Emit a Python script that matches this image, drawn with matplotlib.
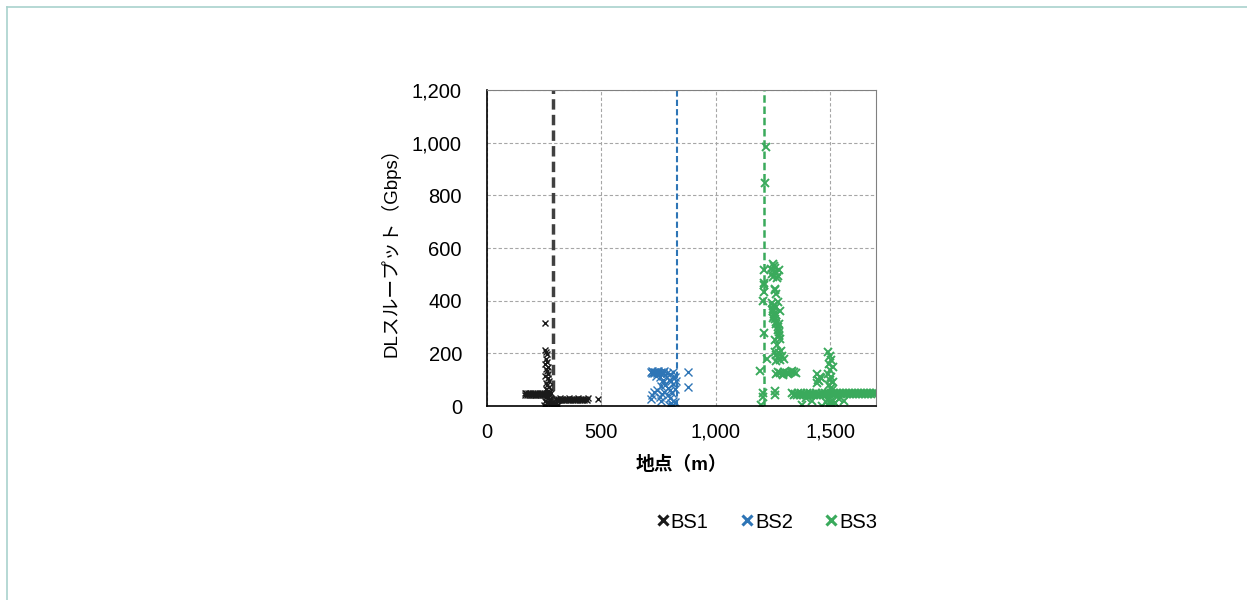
import matplotlib
matplotlib.use("Agg")
import matplotlib.pyplot as plt
from matplotlib.lines import Line2D
from matplotlib.ticker import FuncFormatter

plt.rcParams['font.family'] = ['Liberation Sans', 'Noto Sans CJK JP', 'DejaVu Sans']

# BS1 (black)
bs1_x = [165, 172, 180, 188, 195, 203, 210, 218, 225, 233, 240, 248, 255, 263, 270, 278,
         168, 176, 184, 192, 200, 208, 216, 224, 232, 240, 250, 260, 270,
         253, 255, 258, 262, 256, 262, 255, 265, 258, 262, 268, 255, 265, 270, 258, 263,
         270, 258, 265, 272, 260, 268, 275, 255, 265, 272, 280, 285, 290, 295, 300, 305,
         310, 248, 258, 275, 282, 288, 296,
         300, 310, 320, 330, 340, 350, 360, 370, 380, 390, 400, 410, 420, 430, 440,
         305, 315, 325, 335, 345, 355, 365, 375, 385, 395, 405, 415, 425, 435,
         485]
bs1_y = [48, 48, 49, 48, 47, 48, 49, 48, 47, 48, 49, 48, 47, 48, 49, 48,
         42, 42, 43, 42, 41, 42, 43, 42, 41, 42, 43, 42, 41,
         315, 212, 205, 198, 180, 168, 158, 150, 140, 132, 122, 115, 106, 95, 88, 80,
         72, 65, 58, 52, 36, 30, 25, 20, 15, 10, 6, 3, 8, 3, 12, 5,
         2, 5, 0, 18, 10, 2, 6,
         28, 28, 29, 28, 27, 28, 29, 28, 27, 28, 29, 28, 27, 28, 29,
         22, 22, 23, 22, 21, 22, 23, 22, 21, 22, 23, 22, 21, 22,
         27]

# BS2 (blue)
bs2_x = [715, 722, 728, 735, 742, 748, 755, 762, 768, 775, 720, 732, 745, 758, 770,
         785, 800, 812, 795, 805, 770, 780, 815, 760, 790, 800, 820, 775, 765, 810,
         790, 722, 718, 730, 745, 755, 800, 812, 805, 795, 815, 808, 820, 770, 755,
         740, 812, 820, 825, 760, 878, 878]
bs2_y = [130, 132, 128, 131, 129, 133, 127, 130, 128, 132, 125, 126, 124, 127, 125,
         125, 120, 110, 100, 95, 90, 80, 85, 75, 70, 60, 65, 55, 45, 50,
         40, 40, 25, 55, 60, 35, 30, 20, 10, 5, 3, 0, 15, 100, 110,
         115, 130, 110, 95, 20, 129, 72]

# BS3 (green)
bs3_x = [1218, 1214, 1210, 1212, 1210, 1212, 1208, 1210, 1192, 1205, 1208, 1197, 1223,
         1240, 1248, 1255, 1262, 1270, 1245, 1258, 1266, 1250, 1275,
         1258, 1262, 1260,
         1245, 1250, 1255, 1260, 1265, 1270, 1275, 1280, 1248, 1256, 1264, 1272, 1278,
         1252, 1262, 1270, 1276, 1258, 1268, 1275, 1250, 1265, 1280,
         1258, 1265, 1272, 1280, 1290, 1298, 1262, 1275, 1285,
         1262, 1272, 1282, 1292, 1300, 1310, 1320, 1330, 1340, 1350, 1295, 1315, 1335,
         1258, 1258,
         1335, 1348, 1361, 1374, 1387, 1400, 1413, 1426, 1439, 1452, 1465, 1478, 1491,
         1504, 1517, 1530, 1543, 1556, 1569, 1582, 1595, 1608, 1621, 1634, 1647, 1660,
         1673, 1686, 1698,
         1340, 1353, 1366, 1379, 1392, 1405, 1418, 1431, 1444, 1457, 1470, 1483, 1496,
         1509, 1522, 1535, 1548, 1561, 1574, 1587, 1600, 1613, 1626, 1639, 1652, 1665,
         1678, 1691,
         1490, 1500, 1505, 1495, 1510, 1500, 1492, 1505, 1498, 1510, 1495, 1502, 1508,
         1490, 1500, 1512, 1496,
         1440, 1448, 1456, 1444, 1452, 1460,
         1375, 1463, 1500, 1510, 1520, 1395, 1420, 1480, 1540, 1560]
bs3_y = [983, 847, 516, 460, 467, 433, 400, 277, 133, 49, 34, 4, 178,
         520, 540, 530, 510, 495, 500, 525, 485, 490, 515,
         440, 425, 445,
         390, 370, 350, 330, 310, 290, 270, 255, 380, 340, 320, 300, 280,
         360, 345, 395, 265, 250, 230, 310, 335, 375, 360,
         205, 195, 185, 175, 190, 180, 170, 200, 210,
         122, 128, 125, 120, 130, 127, 124, 128, 131, 126, 118, 121, 133,
         42, 58,
         48, 47, 49, 48, 46, 48, 49, 47, 48, 46, 49, 48, 50,
         49, 51, 50, 49, 51, 50, 48, 50, 51, 49, 50, 51, 49,
         50, 48, 50,
         40, 42, 41, 40, 43, 41, 40, 42, 41, 40, 43, 42, 44,
         44, 45, 44, 46, 45, 44, 46, 45, 44, 46, 45, 44, 45,
         46, 45,
         205, 190, 175, 160, 150, 135, 120, 110, 100, 90, 80, 70, 60,
         25, 15, 5, 0,
         87, 100, 110, 120, 95, 105,
         4, 0, 10, 20, 10, 30, 20, 15, 25, 20]

bs_lines = [290, 830, 1210]

fig = plt.figure(figsize=(12.47, 6.0), dpi=100)
ax = fig.add_axes([0.3905, 0.3233, 0.312, 0.5267])

c1, c2, c3 = '#1a1a1a', '#2e75b6', '#3aaa5c'
ax.plot(bs1_x, bs1_y, 'x', color=c1, ms=5, mew=1.0, label='BS1')
ax.plot(bs2_x, bs2_y, 'x', color=c2, ms=6, mew=1.0, label='BS2')
ax.plot(bs3_x, bs3_y, 'x', color=c3, ms=6, mew=1.4, label='BS3')

ax.axvline(bs_lines[0], color='#404040', lw=2.5, dashes=(3, 1.5), zorder=1)
ax.axvline(bs_lines[1], color=c2, lw=1.5, dashes=(3, 1.5), zorder=1)
ax.axvline(bs_lines[2], color=c3, lw=1.8, dashes=(3, 1.5), zorder=1)

ax.set_xlim(0, 1700)
ax.set_ylim(0, 1200)
ax.set_xticks([0, 500, 1000, 1500])
ax.set_yticks([0, 200, 400, 600, 800, 1000, 1200])
fmt = FuncFormatter(lambda v, p: f'{int(v):,}')
ax.xaxis.set_major_formatter(fmt)
ax.yaxis.set_major_formatter(fmt)
ax.tick_params(axis='both', length=0, labelsize=14.5)
ax.tick_params(axis='y', pad=18)
ax.tick_params(axis='x', pad=12)
ax.grid(True, color='#a6a6a6', lw=0.8, dashes=(3, 2))
ax.set_axisbelow(True)
for s in ['top', 'right']:
    ax.spines[s].set_color('#808080')
    ax.spines[s].set_linewidth(0.8)
for s in ['left', 'bottom']:
    ax.spines[s].set_color('black')
    ax.spines[s].set_linewidth(1.2)

ax.set_xlabel('地点（m）', fontsize=13.5, fontweight='bold', labelpad=10)
ax.set_ylabel('DLスループット（Gbps）', fontsize=13.5, labelpad=8)

handles = [Line2D([], [], ls='', marker='x', color=c1, ms=7, mew=2.2),
           Line2D([], [], ls='', marker='x', color=c2, ms=7, mew=2.2),
           Line2D([], [], ls='', marker='x', color=c3, ms=7, mew=2.2)]
fig.legend(handles, ['BS1', 'BS2', 'BS3'], loc='center', bbox_to_anchor=(0.615, 0.13),
           ncol=3, frameon=False, fontsize=14.5, handlelength=0.6,
           handletextpad=0.1, columnspacing=1.6)

# light frame at top and left
fig.add_artist(Line2D([7 / 1247, 1], [1 - 7 / 600, 1 - 7 / 600], color='#a9d2cd', lw=1.2))
fig.add_artist(Line2D([7 / 1247, 7 / 1247], [0, 1 - 7 / 600], color='#a9d2cd', lw=1.2))

fig.savefig('out.png', dpi=100)
